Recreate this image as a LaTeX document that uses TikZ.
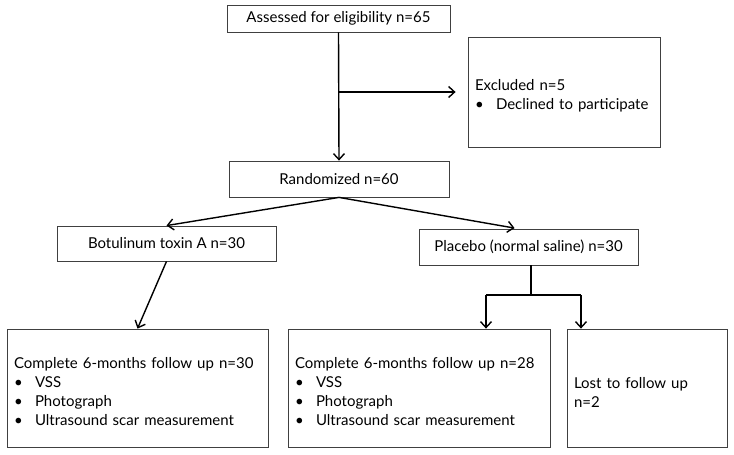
\documentclass[tikz,border=0pt]{standalone}
\usepackage{fontspec}
\setmainfont{Lato}
\usetikzlibrary{arrows.meta, positioning, calc}

\tikzset{
    box/.style={draw=black!75, line width=0.8pt, fill=white, inner sep=0pt, font=\fontsize{15}{19}\selectfont},
    multi/.style={box, align=left, execute at begin node=\rule{0pt}{19pt}},
    arr/.style={line width=1.4pt, -{Straight Barb[length=6pt,width=11pt,line width=1.4pt]}},
    lin/.style={line width=1.4pt}
}
\newcommand{\itm}{\makebox[21pt][l]{\textbullet}}

\begin{document}
\begin{tikzpicture}[x=1pt,y=-1pt]
\useasboundingbox (0,0) rectangle (734,455);

% Top
\node[box, minimum width=223pt, minimum height=27pt] (assess) at (338.5,18.5) {Assessed for eligibility n=65};
\node[multi, minimum width=192pt, minimum height=110pt, text width=178pt] (excl) at (564,92)
    {Excluded n=5\\ \itm Declined to participate};
\node[box, minimum width=220pt, minimum height=36pt] (rand) at (339,179) {Randomized n=60};

% Arms
\node[box, minimum width=219pt, minimum height=35pt] (botox) at (166.5,243.5) {Botulinum toxin A n=30};
\node[box, minimum width=219pt, minimum height=36pt] (placebo) at (528.5,247) {Placebo (normal saline) n=30};

% Follow up
\node[multi, minimum width=261pt, minimum height=118pt, text width=247pt] (comp1) at (137.5,388)
    {Complete 6-months follow up n=30\\ \itm VSS\\ \itm Photograph\\ \itm Ultrasound scar measurement};
\node[multi, minimum width=262pt, minimum height=118pt, text width=248pt] (comp2) at (419,388)
    {Complete 6-months follow up n=28\\ \itm VSS\\ \itm Photograph\\ \itm Ultrasound scar measurement};
\node[multi, minimum width=160pt, minimum height=118pt, text width=146pt] (lost) at (647,388)
    {Lost to follow up\\ n=2};

% Connectors
\coordinate (split) at (339,92);
\draw[arr] (assess.south) -- (rand.north);
\draw[arr, shorten >=12pt] (split) -- (split -| excl.west);
\draw[arr] (rand.south) -- (botox.north);
\draw[arr, shorten >=3pt] (rand.south) -- ($(placebo.north)+(-11,0)$);
\draw[arr] (botox.south) -- (comp1.north);

\coordinate (fork) at (531,295);
\coordinate (f1) at (486,295);
\coordinate (f2) at (581,295);
\draw[lin] (placebo.south -| fork) -- (fork);
\draw[lin] (f1) -- (f2);
\draw[arr] (f1) -- (f1 |- comp2.north);
\draw[arr] (f2) -- (f2 |- lost.north);
\end{tikzpicture}
\end{document}
